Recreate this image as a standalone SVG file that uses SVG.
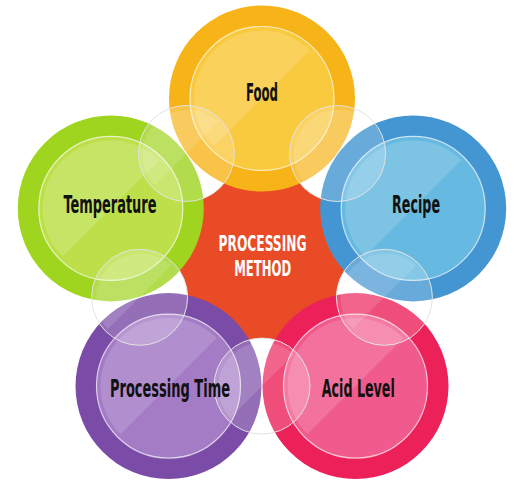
<svg xmlns="http://www.w3.org/2000/svg" xmlns:xlink="http://www.w3.org/1999/xlink" width="514" height="480" viewBox="0 0 514 480">
<style>
.lbl{font-family:"Liberation Sans Narrow","DejaVu Sans Condensed","DejaVu Sans",sans-serif;font-weight:bold;font-size:25px;text-anchor:middle;fill:#111;}
.ctr{fill:#fff;font-size:21px;}
.inner{stroke:#fff;stroke-opacity:0.7;stroke-width:1.2;}
.gloss{fill:#fff;fill-opacity:0.15;}
.bubble{fill:#fff;fill-opacity:0.2;stroke:#e2e2e2;stroke-width:1;}
.bgloss{fill:#fff;fill-opacity:0.13;}
.base{fill:#fff;}
</style>
<defs>
<path id="gl" d="M-48.1,48.1 A68,68 0 0 1 48.1,-48.1Z"/>
<path id="glb" d="M-31.8,31.8 A45,45 0 0 1 31.8,-31.8Z"/>
</defs>
<rect width="514" height="480" fill="#fff"/>
<g id="processing-method">
<circle cx="262" cy="257.5" r="110" fill="#E84B26"/>
</g>
<g id="bubble-bases">
<circle class="base" cx="337.6" cy="153.5" r="48"/>
<circle class="base" cx="384.4" cy="297.3" r="48"/>
<circle class="base" cx="262" cy="386.1" r="48"/>
<circle class="base" cx="139.6" cy="297.3" r="48"/>
<circle class="base" cx="186.4" cy="153.5" r="48"/>
</g>
<g id="food">
<circle cx="262" cy="98.5" r="93" fill="#F7B418"/>
<circle class="inner" cx="262" cy="98.5" r="72" fill="#F9C93E"/>
<use href="#gl" xlink:href="#gl" class="gloss" x="262" y="98.5"/>
<text class="lbl" x="262" y="100.5" textLength="32" lengthAdjust="spacingAndGlyphs">Food</text>
</g>
<g id="recipe">
<circle cx="413.2" cy="208.4" r="93" fill="#4396D2"/>
<circle class="inner" cx="413.2" cy="208.4" r="72" fill="#66B9E0"/>
<use href="#gl" xlink:href="#gl" class="gloss" x="413.2" y="208.4"/>
<circle class="bubble" cx="337.6" cy="153.5" r="48"/>
<use href="#glb" xlink:href="#glb" class="bgloss" x="337.6" y="153.5"/>
<text class="lbl" x="416" y="212.5" textLength="48" lengthAdjust="spacingAndGlyphs">Recipe</text>
</g>
<g id="acid-level">
<circle cx="355.5" cy="386.1" r="93" fill="#EC2159"/>
<circle class="inner" cx="355.5" cy="386.1" r="72" fill="#F15A8C"/>
<use href="#gl" xlink:href="#gl" class="gloss" x="355.5" y="386.1"/>
<circle class="bubble" cx="384.4" cy="297.3" r="48"/>
<use href="#glb" xlink:href="#glb" class="bgloss" x="384.4" y="297.3"/>
<text class="lbl" x="358.3" y="396.5" textLength="73" lengthAdjust="spacingAndGlyphs">Acid Level</text>
</g>
<g id="processing-time">
<circle cx="168.5" cy="386.1" r="93" fill="#7A4BA7"/>
<circle class="inner" cx="168.5" cy="386.1" r="72" fill="#A47BC5"/>
<use href="#gl" xlink:href="#gl" class="gloss" x="168.5" y="386.1"/>
<circle class="bubble" cx="262" cy="386.1" r="48"/>
<use href="#glb" xlink:href="#glb" class="bgloss" x="262" y="386.1"/>
<text class="lbl" x="170" y="396.5" textLength="120" lengthAdjust="spacingAndGlyphs">Processing Time</text>
</g>
<g id="temperature">
<circle cx="110.8" cy="208.4" r="93" fill="#9FD41F"/>
<circle class="inner" cx="110.8" cy="208.4" r="72" fill="#BDE04A"/>
<use href="#gl" xlink:href="#gl" class="gloss" x="110.8" y="208.4"/>
<circle class="bubble" cx="139.6" cy="297.3" r="48"/>
<use href="#glb" xlink:href="#glb" class="bgloss" x="139.6" y="297.3"/>
<circle class="bubble" cx="186.4" cy="153.5" r="48"/>
<use href="#glb" xlink:href="#glb" class="bgloss" x="186.4" y="153.5"/>
<text class="lbl" x="110" y="212.5" textLength="93" lengthAdjust="spacingAndGlyphs">Temperature</text>
</g>
<g id="processing-method-label">
<text class="lbl ctr" x="262.5" y="251" textLength="88" lengthAdjust="spacingAndGlyphs">PROCESSING</text>
<text class="lbl ctr" x="262.7" y="275.5" textLength="57" lengthAdjust="spacingAndGlyphs">METHOD</text>
</g>
</svg>
